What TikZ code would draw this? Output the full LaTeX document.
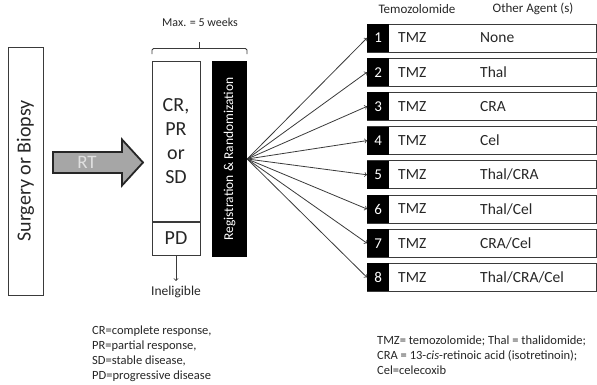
\documentclass[tikz,border=0pt]{standalone}
\usepackage{fontspec}
\setmainfont{Carlito}
\usetikzlibrary{positioning, arrows, shapes}
\definecolor{rtgray}{HTML}{A6A6A6}
\definecolor{linegray}{HTML}{3A3A3A}
\tikzstyle{arrow} = [->,>=to, line width=0.8pt, draw=linegray]
\newcommand{\fsz}[2]{\fontsize{#1}{#2}\selectfont}

\begin{document}
\begin{tikzpicture}[x=1pt,y=-1pt]
                    \tikzstyle{every node}=[font=\fsz{12.5}{15}, inner sep=0pt, text=black!85]
                    \tikzstyle{outline} = [rectangle, draw=linegray, line width=1pt]
                    \tikzstyle{armbox} = [outline, minimum width=229pt, minimum height=28pt, anchor=west]
                    \tikzstyle{armnum} = [rectangle, fill=black, text=white, minimum width=22pt, minimum height=28pt, anchor=west, font=\fsz{15}{18}]
                    \tikzstyle{armtext} = [anchor=west, font=\fsz{15.5}{18}]
                    \tikzstyle{note} = [anchor=north west, align=left, font=\fsz{12.5}{15}]

                    \useasboundingbox (0,0) rectangle (597,384);

                    \node[outline, rotate=90, minimum width=248pt, minimum height=35pt, font=\fsz{20}{24}](surg) at (25.5,171) {Surgery or Biopsy};

                    \draw[fill=rtgray, line width=1.8pt, draw=black!85] (53,152) -- (122,152) -- (122,139.5) -- (143,162.5) -- (122,185.5) -- (122,173) -- (53,173) -- cycle;
                    \node[text=white!88!black, font=\fsz{19}{22}](rt) at (87,162.5) {RT};

                    \node[outline, minimum width=48pt, minimum height=160pt, align=center, font=\fsz{20}{24}](resp) at (176,141) {CR,\\PR\\or\\SD};
                    \node[outline, minimum width=48pt, minimum height=33pt, anchor=north, font=\fsz{20}{24}](pd) at (resp.south) {PD};
                    \node[font=\fsz{13.5}{16}](inel) at (176,292) {Ineligible};
                    \draw[arrow, shorten >=5pt] (pd) -- (inel);

                    \node[rectangle, fill=black, rotate=90, minimum width=196pt, minimum height=35pt, text=white, font=\fsz{13.5}{16}](reg) at (229.5,159) {Registration \& Randomization};

                    \draw[linegray, line width=0.9pt, rounded corners=1.5pt] (152,54) -- (152,48.5) -- (247,48.5) -- (247,54);
                    \draw[linegray, line width=0.9pt] (199.5,48.5) -- (199.5,42);
                    \node[font=\fsz{12}{14}](maxw) at (200,22) {Max. = 5 weeks};

                    \node[font=\fsz{13}{15}](hdtmz) at (417,9) {Temozolomide};
                    \node[font=\fsz{13}{15}](hdoth) at (533,9) {Other Agent (s)};

                    \foreach \i/\agent in {1/None, 2/Thal, 3/CRA, 4/Cel, 5/Thal\slash CRA, 6/Thal\slash Cel, 7/CRA\slash Cel, 8/Thal\slash CRA\slash Cel} {
                        \node[armbox](a\i) at (367,{38+34.2*(\i-1)}) {};
                        \node[armnum](n\i) at (a\i.west) {\i};
                        \node[armtext](t\i) at (398,{38+34.2*(\i-1)}) {TMZ};
                        \node[armtext](o\i) at (480,{38+34.2*(\i-1)}) {\agent};
                        \draw[arrow] (reg.south) -- (n\i.west);
                    }

                    \node[note](keyl) at (92,326) {CR=complete response,\\PR=partial response,\\SD=stable disease,\\PD=progressive disease};
                    \node[note](keyr) at (377,336) {TMZ= temozolomide; Thal = thalidomide;\\CRA = 13-\textit{cis}-retinoic acid (isotretinoin);\\Cel=celecoxib};
            \end{tikzpicture}
\end{document}
